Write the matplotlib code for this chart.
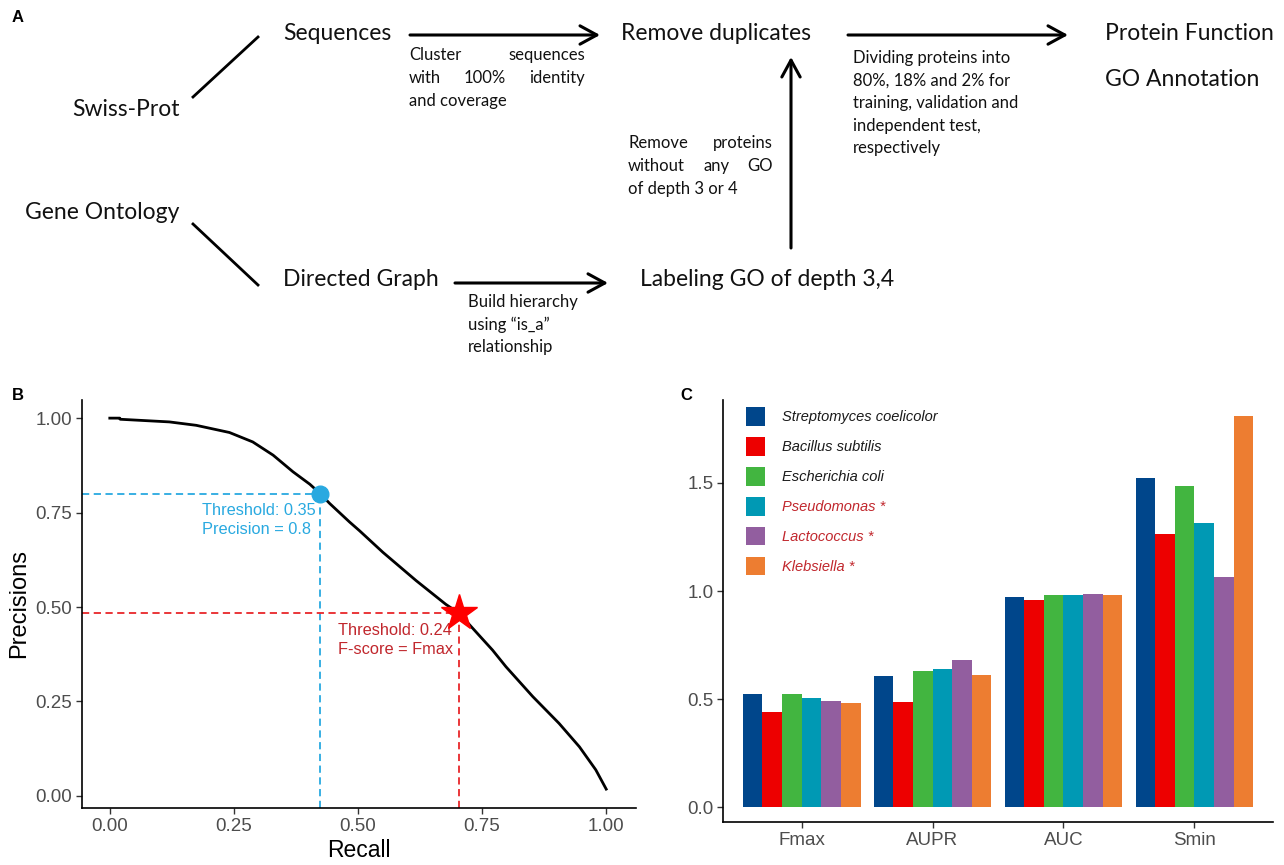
import matplotlib
matplotlib.use("Agg")
import matplotlib.pyplot as plt
from matplotlib.patches import FancyArrowPatch, Patch
from matplotlib.lines import Line2D
import numpy as np

W, H = 1284, 865

# ---- Panel B: precision-recall curve ----
recall = [0.0, 0.02, 0.021, 0.12, 0.174, 0.241, 0.288, 0.329, 0.369, 0.403,
          0.424, 0.443, 0.483, 0.503, 0.55, 0.617, 0.677, 0.704, 0.744, 0.771,
          0.798, 0.852, 0.905, 0.946, 0.979, 1.0]
precision = [1.0, 1.0, 0.997, 0.99, 0.981, 0.962, 0.937, 0.902, 0.858, 0.825,
             0.80, 0.774, 0.725, 0.702, 0.645, 0.57, 0.507, 0.483, 0.425, 0.386,
             0.342, 0.263, 0.192, 0.13, 0.069, 0.018]
p08_point = (0.424, 0.80)     # threshold 0.35, precision = 0.8
fmax_point = (0.704, 0.483)   # threshold 0.24, F-score = Fmax

# ---- Panel C: metrics per species ----
metrics = ["Fmax", "AUPR", "AUC", "Smin"]
species = ["Streptomyces coelicolor", "Bacillus subtilis", "Escherichia coli",
           "Pseudomonas *", "Lactococcus *", "Klebsiella *"]
streptomyces = [0.523, 0.608, 0.974, 1.522]
bacillus = [0.438, 0.488, 0.960, 1.266]
escherichia = [0.525, 0.630, 0.981, 1.488]
pseudomonas = [0.505, 0.638, 0.981, 1.316]
lactococcus = [0.492, 0.681, 0.986, 1.065]
klebsiella = [0.481, 0.611, 0.980, 1.808]
series = [streptomyces, bacillus, escherichia, pseudomonas, lactococcus, klebsiella]
colors = ["#00468B", "#ED0000", "#42B540", "#0099B4", "#925E9F", "#ED7D31"]
label_colors = ["#1a1a1a", "#1a1a1a", "#1a1a1a", "#C1272D", "#C1272D", "#C1272D"]

fig = plt.figure(figsize=(W / 100, H / 100), dpi=100)
fig.patch.set_facecolor("white")


def px(x, y):
    return (x / W, 1 - y / H)


FLOW_FONT = "Lato"
BIG = 16.5
SMALL = 12


def ftext(x, y, s, size=BIG, ha="left", va="center", **kw):
    return fig.text(*px(x, y), s, fontsize=size, ha=ha, va=va,
                    family=FLOW_FONT, color="#111111", **kw)


def justified(words, x0, x1, y, size=SMALL):
    renderer = fig.canvas.get_renderer()
    texts = [ftext(x0, y, w, size=size) for w in words]
    widths = [t.get_window_extent(renderer).width for t in texts]
    gap = (x1 - x0 - sum(widths)) / (len(words) - 1)
    x = x0
    for t, w in zip(texts, widths):
        t.set_position(px(x, y))
        x += w + gap


def arrow(x0, y0, x1, y1):
    fig.add_artist(FancyArrowPatch(px(x0, y0), px(x1, y1), transform=fig.transFigure,
                                   arrowstyle="->,head_length=0.55,head_width=0.3",
                                   mutation_scale=22, lw=2.2, color="black",
                                   shrinkA=0, shrinkB=0))


def line(x0, y0, x1, y1):
    fig.add_artist(Line2D([x0 / W, x1 / W], [1 - y0 / H, 1 - y1 / H],
                          transform=fig.transFigure, color="black", lw=2))


# ---- Panel A: workflow ----
fig.text(*px(12, 17), "A", fontsize=12, fontweight="bold", family="Liberation Sans",
         ha="left", va="center")
ftext(283, 33, "Sequences")
ftext(72, 110, "Swiss-Prot")
ftext(621, 33, "Remove duplicates")
ftext(1105, 33, "Protein Function")
ftext(1105, 80, "GO Annotation")
ftext(25, 213, "Gene Ontology")
ftext(283, 280, "Directed Graph")
ftext(640, 280, "Labeling GO of depth 3,4")

line(193, 97, 258, 37)
line(193, 224, 258, 285)
arrow(410, 35, 600, 35)
arrow(848, 35, 1068, 35)
arrow(455, 283, 608, 283)
arrow(791, 248, 791, 57)

justified(["Cluster", "sequences"], 409, 585, 55)
justified(["with", "100%", "identity"], 409, 585, 78)
ftext(409, 101, "and coverage", size=SMALL)

justified(["Remove", "proteins"], 628, 773, 143)
justified(["without", "any", "GO"], 628, 773, 166)
ftext(628, 189, "of depth 3 or 4", size=SMALL)

for i, s in enumerate(["Dividing proteins into", "80%, 18% and 2% for",
                       "training, validation and", "independent test,",
                       "respectively"]):
    ftext(853, 58 + i * 22.5, s, size=SMALL)

for i, s in enumerate(["Build hierarchy", "using \u201cis_a\u201d", "relationship"]):
    ftext(468, 302 + i * 22.5, s, size=SMALL)

# ---- Panel B ----
PLOT_FONT = "Liberation Sans"
GREY = "#4d4d4d"
fig.text(*px(12, 396), "B", fontsize=12, fontweight="bold", family=PLOT_FONT,
         ha="left", va="center")
axB = fig.add_axes([82 / W, 1 - 808 / H, (636 - 82) / W, (808 - 400) / H])
axB.set_xlim(-0.056, 1.06)
axB.set_ylim(-0.032, 1.048)
axB.plot(recall, precision, color="black", lw=2)

blue = "#29A9E0"
red_line = "#E8262A"
dash = dict(ls="--", lw=1.3, dashes=(4, 2.5))
axB.plot([-0.056, p08_point[0]], [p08_point[1]] * 2, color=blue, **dash)
axB.plot([p08_point[0]] * 2, [-0.032, p08_point[1]], color=blue, **dash)
axB.plot([-0.056, fmax_point[0]], [fmax_point[1]] * 2, color=red_line, **dash)
axB.plot([fmax_point[0]] * 2, [-0.032, fmax_point[1]], color=red_line, **dash)
axB.plot(*p08_point, marker="o", ms=12, color=blue, zorder=5)
axB.plot(*fmax_point, marker="*", ms=27, color="#FF0000", mec="#FF0000", zorder=5)
axB.text(0.414, 0.775, "Threshold: 0.35\nPrecision = 0.8",
         color=blue, ha="right", va="top", multialignment="left",
         fontsize=11.8, family=PLOT_FONT, linespacing=1.35)
axB.text(0.692, 0.458, "Threshold: 0.24\nF-score = Fmax",
         color="#C1272D", ha="right", va="top", multialignment="left",
         fontsize=11.8, family=PLOT_FONT, linespacing=1.35)

axB.set_xticks([0, 0.25, 0.5, 0.75, 1.0])
axB.set_xticklabels(["0.00", "0.25", "0.50", "0.75", "1.00"])
axB.set_yticks([0, 0.25, 0.5, 0.75, 1.0])
axB.set_yticklabels(["0.00", "0.25", "0.50", "0.75", "1.00"])
axB.set_xlabel("Recall", fontsize=16.5, family=PLOT_FONT, labelpad=3)
axB.set_ylabel("Precisions", fontsize=17, family=PLOT_FONT, labelpad=4)

# ---- Panel C ----
fig.text(*px(680, 396), "C", fontsize=12, fontweight="bold", family=PLOT_FONT,
         ha="left", va="center")
axC = fig.add_axes([723 / W, 1 - 822 / H, (1273 - 723) / W, (822 - 400) / H])
x = np.arange(len(metrics))
bw = 0.15
handles = []
for i, (vals, c) in enumerate(zip(series, colors)):
    axC.bar(x + (i - 2.5) * bw, vals, width=bw, color=c, linewidth=0)
    handles.append(Patch(facecolor=c, edgecolor="none"))
axC.set_xlim(-0.6, 3.6)
axC.set_ylim(-0.069, 1.884)
axC.set_xticks(x)
axC.set_xticklabels(metrics)
axC.set_yticks([0, 0.5, 1.0, 1.5])
axC.set_yticklabels(["0.0", "0.5", "1.0", "1.5"])
leg = axC.legend(handles, species, loc="upper left", bbox_to_anchor=(0.025, 1.003),
                 frameon=False, prop={"family": PLOT_FONT, "style": "italic", "size": 10.5},
                 handlelength=1.35, handleheight=1.55, labelspacing=0.8, handletextpad=1.15,
                 borderaxespad=0.2)
for t, c in zip(leg.get_texts(), label_colors):
    t.set_color(c)

for ax in (axB, axC):
    for side in ("top", "right"):
        ax.spines[side].set_visible(False)
    for side in ("left", "bottom"):
        ax.spines[side].set_linewidth(1.2)
    ax.tick_params(axis="both", length=4, width=1, color="#333333", labelcolor=GREY,
                   labelsize=13.5, pad=3)
    for lab in ax.get_xticklabels() + ax.get_yticklabels():
        lab.set_family(PLOT_FONT)

fig.savefig("out.png", dpi=100, facecolor="white")
